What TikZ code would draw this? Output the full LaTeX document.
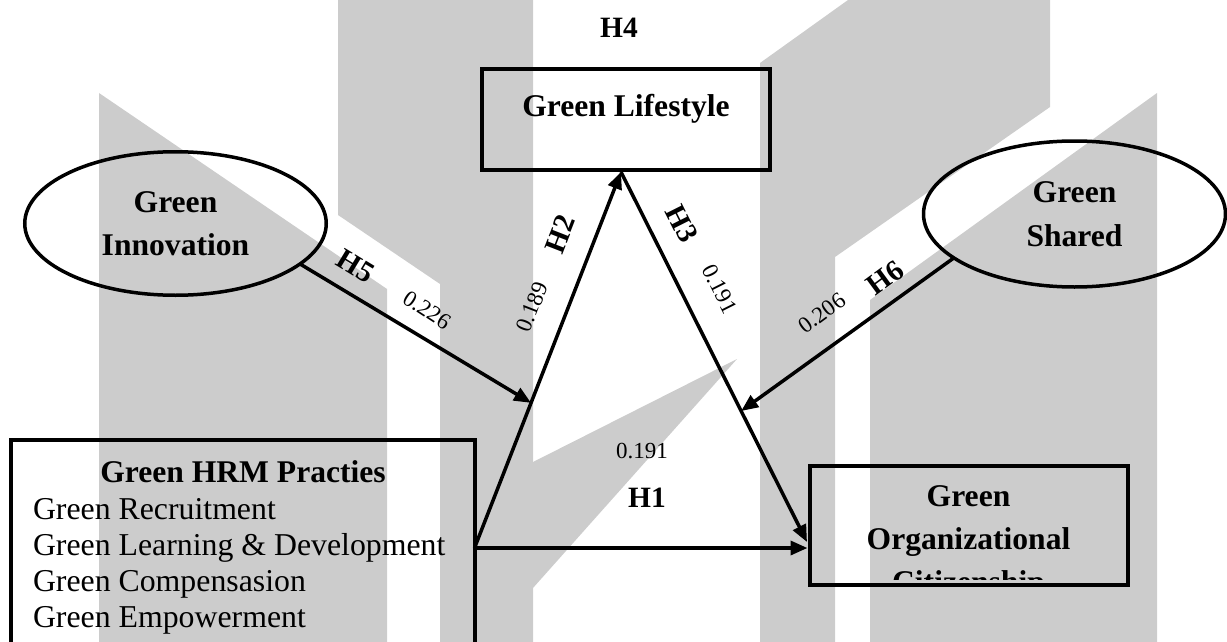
\documentclass[tikz,border=0pt]{standalone}
\usepackage{fontspec}
\setmainfont{Liberation Serif}
\usetikzlibrary{arrows.meta,shapes.geometric,calc}
\definecolor{markgray}{RGB}{204,204,204}
\newcommand\fTitle{\bfseries\fontsize{31.6}{43.5}\selectfont}
\newcommand\fItem{\fontsize{31.8}{36}\selectfont}
\newcommand\fHyp{\bfseries\fontsize{29.5}{34}\selectfont}
\newcommand\fCoef{\fontsize{23}{27}\selectfont}
\begin{document}
\begin{tikzpicture}[x=1pt,y=-1pt,
  every node/.style={inner sep=0pt,outer sep=0pt},
  boxnode/.style={draw,rectangle,line width=4pt},
  ovalnode/.style={draw,ellipse,line width=3.5pt,align=center,font=\fTitle},
  titletext/.style={font=\fTitle,anchor=base},
  itemtext/.style={font=\fItem,anchor=base west},
  hyp/.style={font=\fHyp},
  coef/.style={font=\fCoef},
  link/.style={line width=3.5pt,-{Triangle[length=17pt,width=14pt]}},
  wm/.style={fill=markgray}]
\useasboundingbox (0,0) rectangle (1227,642);
\clip (0,0) rectangle (1227,642);

% background mark
\fill[wm] (99,93) -- (387,289) -- (387,642) -- (99,642) -- cycle;
\fill[wm] (338,0) -- (533,0) -- (533,642) -- (440,642) -- (440,284) -- (338,215) -- cycle;
\fill[wm] (533,462) -- (737,359) -- (533,588) -- cycle;
\fill[wm] (760,63) -- (848,0) -- (1050,0) -- (1050,107) -- (835,257) -- (835,642) -- (760,642) -- cycle;
\fill[wm] (870,300) -- (1157,93) -- (1157,642) -- (870,642) -- cycle;

% constructs
\node[boxnode,minimum width=288pt,minimum height=101pt] (life) at (626,119.5) {};
\node[titletext] (lifeT) at (626,117) {Green Lifestyle};
\node[hyp] (h4) at (619,28) {H4};

\node[boxnode,minimum width=463.5pt,minimum height=216pt] (hrm) at (242.75,548) {};
\node[titletext] (hrmT) at (243,482) {Green HRM Practies};
\node[itemtext] (hrm1) at (33,519) {Green Recruitment};
\node[itemtext] (hrm2) at (33,555) {Green Learning \& Development};
\node[itemtext] (hrm3) at (33,591) {Green Compensasion};
\node[itemtext] (hrm4) at (33,627) {Green Empowerment};

\node[boxnode,minimum width=318pt,minimum height=119pt] (org) at (968.5,525.5) {};
\begin{scope}
  \clip (org.north west) rectangle ($(org.south east)+(0,-6)$);
  \node[titletext] (orgT1) at (968.5,506) {Green};
  \node[titletext] (orgT2) at (968.5,549) {Organizational};
  \node[titletext] (orgT3) at (968.5,592) {Citizenship};
\end{scope}

\node[ovalnode,minimum width=301.5pt,minimum height=143.5pt] (innov) at (175.5,223.5) {Green\\Innovation};
\node[ovalnode,minimum width=302pt,minimum height=146pt] (shared) at (1074.5,214) {Green\\Shared};

% connector end points
\coordinate (lifeTip) at (621,172);
\coordinate (orgH1) at (807.5,548);
\coordinate (orgH3) at (807,542);
\coordinate (h5tip) at ($(hrm.east)!0.386!(lifeTip)$);
\coordinate (h6tip) at ($(lifeTip)!0.646!(orgH3)$);

% paths
\draw[link] (hrm.east) -- (orgH1);
\draw[link] (hrm.east) -- (lifeTip);
\draw[link] (lifeTip) -- (orgH3);
\draw[link] (innov.-18) -- (h5tip);
\draw[link] (shared.200) -- (h6tip);

% hypotheses and coefficients
\node[hyp,rotate=-31.3] (h5) at (356,266) {H5};
\node[coef,rotate=-33] (c5) at (427,310) {0.226};
\node[hyp,rotate=68.7] (h2) at (560,234) {H2};
\node[coef,rotate=68.7] (c2) at (532,307) {0.189};
\node[hyp,rotate=-63.3] (h3) at (682,224) {H3};
\node[coef,rotate=-63.3] (c3) at (720,289) {0.191};
\node[hyp,rotate=36.3] (h6) at (885,278) {H6};
\node[coef,rotate=36.3] (c6) at (822,313) {0.206};
\node[coef] (c1) at (642,451) {0.191};
\node[hyp] (h1) at (647,498) {H1};
\end{tikzpicture}
\end{document}
